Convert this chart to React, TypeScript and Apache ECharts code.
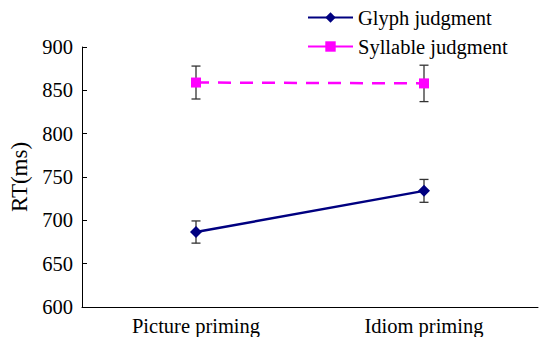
import React, { useEffect, useRef } from "react";
import * as echarts from "echarts";

const categories = ["Picture priming", "Idiom priming"];
const glyph = [686.5, 734];
const glyphErr = [12.8, 13.2];
const syllable = [859, 858];
const syllableErr = [19, 21];
const yTicks = { min: 600, max: 900, interval: 50 };

const FONT = "Liberation Serif";

export default function App() {
  const ref = useRef<HTMLDivElement>(null);
  useEffect(() => {
    const chart = echarts.init(ref.current!, undefined, { renderer: "svg" });
    const errData = (vals: number[], errs: number[]) =>
      vals.map((v, i) => [i, v - errs[i], v + errs[i]]);
    const renderErr = (params: any, api: any) => {
      const x = api.value(0);
      const lo = api.coord([x, api.value(1)]);
      const hi = api.coord([x, api.value(2)]);
      const w = 4.5;
      const style = { stroke: "#333", lineWidth: 1.3 };
      return {
        type: "group",
        children: [
          { type: "line", shape: { x1: lo[0], y1: lo[1], x2: hi[0], y2: hi[1] }, style },
          { type: "line", shape: { x1: lo[0] - w, y1: lo[1], x2: lo[0] + w, y2: lo[1] }, style },
          { type: "line", shape: { x1: hi[0] - w, y1: hi[1], x2: hi[0] + w, y2: hi[1] }, style },
        ],
      };
    };
    chart.setOption({
      animation: false,
      grid: { left: 82, right: 2, top: 47, bottom: 30 },
      legend: {
        orient: "vertical",
        left: 302,
        top: 2,
        itemWidth: 45,
        itemHeight: 13,
        itemGap: 8,
        textStyle: { fontFamily: FONT, fontSize: 20.5, color: "#000" },
        data: [
          { name: "Glyph judgment" },
          { name: "Syllable judgment", lineStyle: { type: "solid" } },
        ],
      },
      xAxis: {
        type: "category",
        data: categories,
        boundaryGap: true,
        axisLine: { lineStyle: { color: "#000", width: 1 } },
        axisTick: { inside: true, length: 4, lineStyle: { color: "#000" } },
        axisLabel: { fontFamily: FONT, fontSize: 20.5, color: "#000", margin: 8 },
      },
      yAxis: {
        type: "value",
        min: yTicks.min,
        max: yTicks.max,
        interval: yTicks.interval,
        name: "RT(ms)",
        nameLocation: "middle",
        nameGap: 50,
        nameTextStyle: { fontFamily: FONT, fontSize: 23, color: "#000" },
        splitLine: { show: false },
        axisLine: { show: true, lineStyle: { color: "#000", width: 1 } },
        axisTick: { show: true, inside: true, length: 5, lineStyle: { color: "#000" } },
        axisLabel: { fontFamily: FONT, fontSize: 20.5, color: "#000", margin: 9 },
      },
      series: [
        {
          name: "Glyph judgment",
          type: "line",
          data: glyph,
          symbol: "diamond",
          symbolSize: 12,
          itemStyle: { color: "#000080" },
          lineStyle: { color: "#000080", width: 2.5 },
          z: 3,
        },
        {
          name: "Syllable judgment",
          type: "line",
          data: syllable,
          symbol: "rect",
          symbolSize: 10,
          itemStyle: { color: "#FF00FF" },
          lineStyle: { color: "#FF00FF", width: 2.5, type: [13, 9] },
          z: 3,
        },
        {
          type: "custom",
          data: errData(glyph, glyphErr),
          renderItem: renderErr,
          z: 2,
          silent: true,
        },
        {
          type: "custom",
          data: errData(syllable, syllableErr),
          renderItem: renderErr,
          z: 2,
          silent: true,
        },
      ],
    });
    return () => chart.dispose();
  }, []);
  return (
    <div
      ref={ref}
      style={{ position: "absolute", left: 0, top: 0, width: 540, height: 337 }}
    />
  );
}
